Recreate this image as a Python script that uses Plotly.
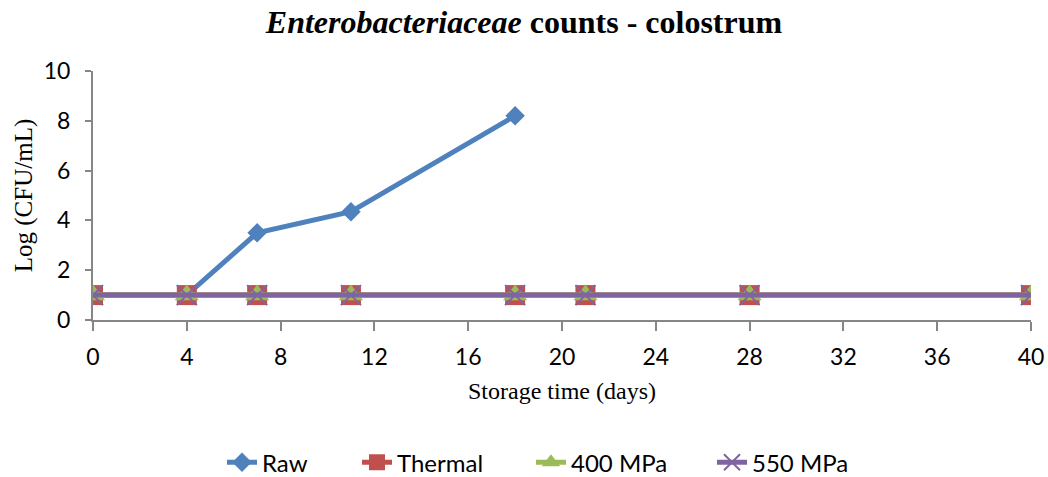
import plotly.graph_objects as go

days_raw = [0, 4, 7, 11, 18]
raw = [1, 1, 3.5, 4.35, 8.2]
days_all = [0, 4, 7, 11, 18, 21, 28, 40]
thermal = [1, 1, 1, 1, 1, 1, 1, 1]
mpa400 = [1, 1, 1, 1, 1, 1, 1, 1]
mpa550 = [1, 1, 1, 1, 1, 1, 1, 1]

x_ticks = [0, 4, 8, 12, 16, 20, 24, 28, 32, 36, 40]
y_ticks = [0, 2, 4, 6, 8, 10]

W, H = 1048, 477

fig = go.Figure()
fig.add_trace(go.Scatter(x=days_raw, y=raw, name="Raw", mode="lines+markers",
                         legend="legend",
                         line=dict(color="#4F81BD", width=5),
                         marker=dict(symbol="diamond", size=15, color="#4F81BD")))
fig.add_trace(go.Scatter(x=days_all, y=thermal, name="Thermal", mode="lines+markers",
                         legend="legend2",
                         line=dict(color="#C0504D", width=5),
                         marker=dict(symbol="square", size=20, color="#C0504D")))
fig.add_trace(go.Scatter(x=days_all, y=mpa400, name="400 MPa", mode="lines+markers",
                         legend="legend3",
                         line=dict(color="#9BBB59", width=5),
                         marker=dict(symbol="triangle-up", size=21, color="#9BBB59")))
fig.add_trace(go.Scatter(x=days_all, y=mpa550, name="550 MPa", mode="lines+markers",
                         legend="legend4",
                         line=dict(color="#8064A2", width=5),
                         marker=dict(symbol="x-thin", size=20, color="#8064A2",
                                     line=dict(color="#8064A2", width=2))))


def leg(px):
    return dict(orientation="h", xref="container", x=px / W, xanchor="left",
                yref="container", y=0.03, yanchor="middle",
                font=dict(family="Lato", size=24, color="black"),
                bgcolor="rgba(0,0,0,0)")


fig.update_layout(
    width=W, height=H,
    margin=dict(l=93, r=17, t=71, b=157, autoexpand=False),
    paper_bgcolor="white", plot_bgcolor="white",
    title=dict(text="<i>Enterobacteriaceae</i> counts - colostrum",
               x=0.5, xanchor="center", y=0.954, yanchor="middle",
               font=dict(family="Liberation Serif", size=32, color="black", weight="bold")),
    xaxis=dict(range=[0, 40], tickvals=x_ticks, showgrid=False, zeroline=False,
               automargin=False,
               showline=True, linecolor="#868686", linewidth=2,
               ticks="outside", ticklen=9, tickcolor="#868686", tickwidth=2,
               ticklabelstandoff=6,
               tickfont=dict(family="Lato", size=23, color="black"),
               title=dict(text="Storage time (days)",
                          font=dict(family="Liberation Serif", size=24, color="black"),
                          standoff=14)),
    yaxis=dict(range=[0, 10], tickvals=y_ticks, showgrid=False, zeroline=False,
               automargin=False,
               showline=True, linecolor="#868686", linewidth=2,
               ticks="outside", ticklen=6, tickcolor="#868686", tickwidth=2,
               ticklabelstandoff=10,
               tickfont=dict(family="Lato", size=23, color="black"),
               title=dict(text="Log (CFU/mL)",
                          font=dict(family="Liberation Serif", size=25, color="black"),
                          standoff=4)),
    legend=leg(222),
    legend2=leg(357),
    legend3=leg(531),
    legend4=leg(712),
    showlegend=True,
)

fig.write_html("out.html", config={"displayModeBar": False},
               post_script="document.body.style.margin='0';")
